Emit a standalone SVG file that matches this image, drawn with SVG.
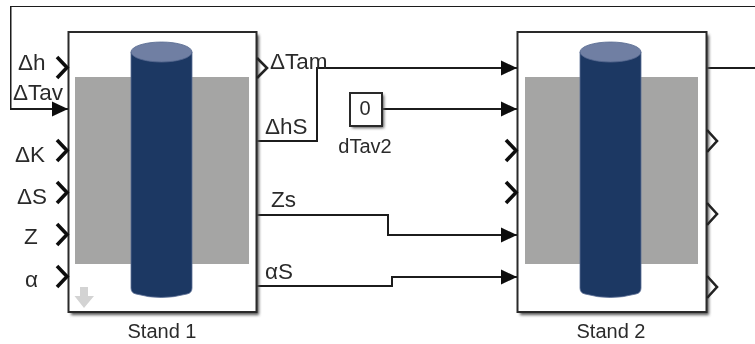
<svg xmlns="http://www.w3.org/2000/svg" width="755" height="344" viewBox="0 0 755 344">
<style>
text{font-family:"Liberation Sans",Arial,sans-serif;fill:#2b2b2b}
.p{font-size:22.500px}.c{font-size:20px;text-anchor:middle}
.w{fill:none;stroke:#1c1c1c;stroke-width:2}
.b{fill:#fff;stroke:#2a2a2a;stroke-width:2}
.s{fill:#555;filter:url(#sh)}
.g{fill:#a5a5a4}.cy{fill:#1d3763;stroke:#5a6f96;stroke-width:.8}.top{fill:#6f7fa3;stroke:#55688f;stroke-width:.8}
.ch{fill:none;stroke:#111;stroke-width:3.6}.och{fill:none;stroke:#222;stroke-width:2.6}
</style>
<defs>
<filter id="sh" x="-10%" y="-10%" width="120%" height="120%"><feGaussianBlur stdDeviation="1.6"/></filter>
<filter id="soft" x="0" y="0" width="100%" height="100%"><feGaussianBlur stdDeviation="0.35"/></filter>
<marker id="a" markerUnits="userSpaceOnUse" markerWidth="16" markerHeight="16" refX="16" refY="8" orient="auto"><path d="M0 0.5L16 8L0 15.5Z" fill="#111"/></marker>
<path id="cyl" d="M131 52V288Q131 293 136 294Q161 301 187 294Q192 293 192 288V52Z"/>
</defs>
<rect width="755" height="344" fill="#fff"/>
<g filter="url(#soft)">
<g id="connectors">
<path class="w" d="M755 6H10.500V109H68" marker-end="url(#a)"/>
<path class="w" d="M256 141H317V68H517" marker-end="url(#a)"/>
<path class="w" d="M382 109H517" marker-end="url(#a)"/>
<path class="w" d="M256 215H388V235H517" marker-end="url(#a)"/>
<path class="w" d="M256 286H392V277H517" marker-end="url(#a)"/>
<path class="w" d="M706 68H755"/>
</g>
<g id="stand1">
<rect class="s" x="71" y="35" width="188" height="280"/>
<rect class="b" x="68.500" y="32" width="188" height="280"/>
<rect class="g" x="75" y="77" width="174" height="187"/>
<use href="#cyl" class="cy"/>
<ellipse class="top" cx="161.500" cy="52" rx="30.500" ry="10"/>
<path d="M80 287H88V296H94L84 308L74.500 296H80Z" fill="#d3d3d3"/>
<path class="ch" d="M57 57L67 67.500L57 78M57 140L67 150.500L57 161M57 182L67 192.500L57 203M57 224L67 234.500L57 245M57 266L67 276.500L57 287"/>
<path class="och" d="M257 58L267 68L257 78"/>
<text class="p" x="18" y="70">Δh</text>
<text class="p" x="13" y="100">ΔTav</text>
<text class="p" x="15" y="162">ΔK</text>
<text class="p" x="17" y="204">ΔS</text>
<text class="p" x="24" y="244">Z</text>
<text class="p" x="25" y="287">α</text>
<text class="p" x="270" y="69">ΔTam</text>
<text class="p" x="265" y="134">ΔhS</text>
<text class="p" x="271" y="207">Zs</text>
<text class="p" x="265" y="279">αS</text>
<text class="c" x="162" y="338">Stand 1</text>
</g>
<g id="dTav2">
<rect class="s" x="352" y="95" width="32" height="33"/>
<rect class="b" x="350" y="93" width="32" height="33"/>
<text x="365" y="115" font-size="20" text-anchor="middle">0</text>
<text class="c" x="365" y="153">dTav2</text>
</g>
<g id="stand2">
<rect class="s" x="520" y="35" width="189" height="280"/>
<rect class="b" x="517.500" y="32" width="189" height="280"/>
<rect class="g" x="525" y="77" width="173" height="187"/>
<g transform="translate(449)"><use href="#cyl" class="cy"/></g>
<ellipse class="top" cx="610.500" cy="52" rx="30.500" ry="10"/>
<path class="ch" d="M506 140L516 150.500L506 161M506 182L516 192.500L506 203"/>
<path class="och" d="M707 130L717 141L707 152M707 203L717 214L707 225M707 276L717 287L707 298"/>
<text class="c" x="611" y="338">Stand 2</text>
</g>
</g>
</svg>
